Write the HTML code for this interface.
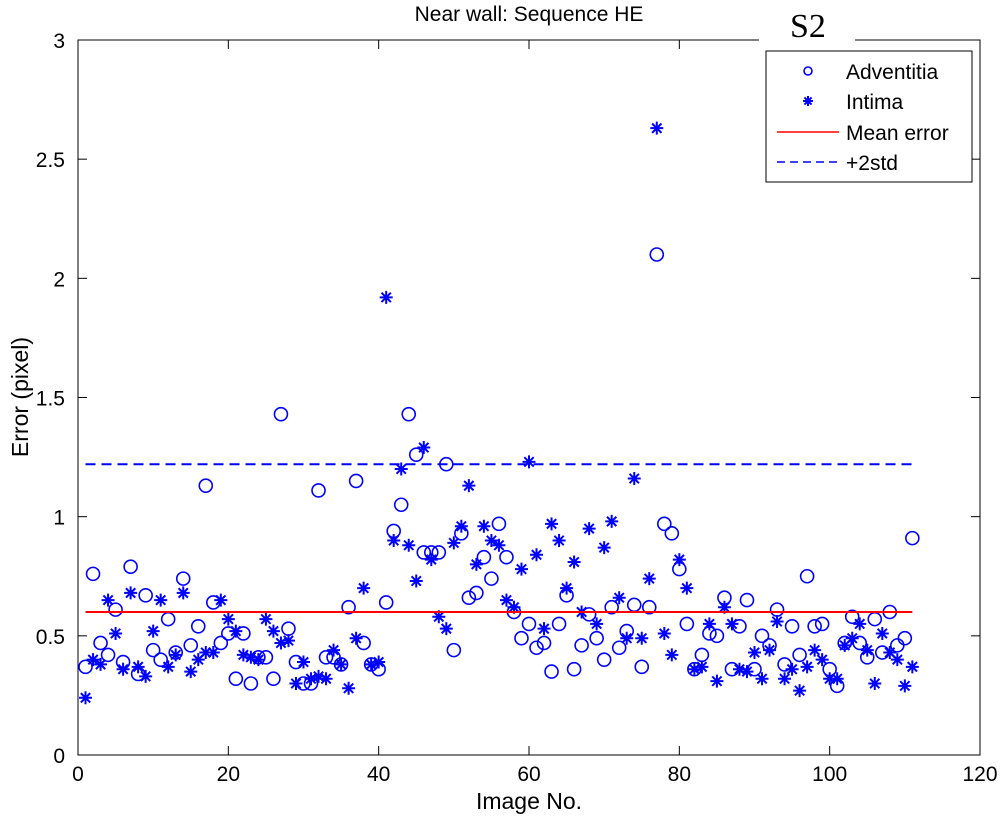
<!DOCTYPE html>
<html><head><meta charset="utf-8"><style>
body{margin:0;background:#fff;}
svg text{font-family:"Liberation Sans",sans-serif;}
</style></head><body>
<svg id="chart" width="1000" height="819" xmlns="http://www.w3.org/2000/svg">
<rect x="0" y="0" width="1000" height="819" fill="#fff"/>
<g id="axes"></g>
<g id="marks"></g>
<g id="legend"></g>
</svg>
<script>
const adventitia=[0.37,0.76,0.47,0.42,0.61,0.39,0.79,0.34,0.67,0.44,0.40,0.57,0.43,0.74,0.46,0.54,1.13,0.64,0.47,0.51,0.32,0.51,0.30,0.41,0.41,0.32,1.43,0.53,0.39,0.30,0.30,1.11,0.41,0.41,0.38,0.62,1.15,0.47,0.38,0.36,0.64,0.94,1.05,1.43,1.26,0.85,0.85,0.85,1.22,0.44,0.93,0.66,0.68,0.83,0.74,0.97,0.83,0.60,0.49,0.55,0.45,0.47,0.35,0.55,0.67,0.36,0.46,0.59,0.49,0.40,0.62,0.45,0.52,0.63,0.37,0.62,2.10,0.97,0.93,0.78,0.55,0.36,0.42,0.51,0.50,0.66,0.36,0.54,0.65,0.36,0.50,0.46,0.61,0.38,0.54,0.42,0.75,0.54,0.55,0.36,0.29,0.47,0.58,0.47,0.41,0.57,0.43,0.60,0.46,0.49,0.91];
const intima=[0.24,0.40,0.38,0.65,0.51,0.36,0.68,0.37,0.33,0.52,0.65,0.37,0.42,0.68,0.35,0.40,0.43,0.43,0.65,0.57,0.52,0.42,0.41,0.40,0.57,0.52,0.47,0.48,0.30,0.39,0.32,0.33,0.32,0.44,0.38,0.28,0.49,0.70,0.38,0.39,1.92,0.90,1.20,0.88,0.73,1.29,0.82,0.58,0.53,0.89,0.96,1.13,0.80,0.96,0.90,0.88,0.65,0.62,0.78,1.23,0.84,0.53,0.97,0.90,0.70,0.81,0.60,0.95,0.55,0.87,0.98,0.66,0.49,1.16,0.49,0.74,2.63,0.51,0.42,0.82,0.70,0.36,0.37,0.55,0.31,0.62,0.55,0.36,0.35,0.43,0.32,0.44,0.56,0.32,0.36,0.27,0.37,0.44,0.40,0.32,0.32,0.46,0.49,0.55,0.44,0.30,0.51,0.43,0.40,0.29,0.37];
const meanError=0.60;
const plus2std=1.22;
const xTicks=[0,20,40,60,80,100,120];
const yTicks=[0,0.5,1,1.5,2,2.5,3];
const yTickLabels=["0","0.5","1","1.5","2","2.5","3"];

const L=78,R=980,T=40,B=755;
const xS=v=>L+(v-0)/(120-0)*(R-L);
const yS=v=>B-(v-0)/(3-0)*(B-T);
const NS="http://www.w3.org/2000/svg";
function mk(tag,attrs,parent){const e=document.createElementNS(NS,tag);for(const k in attrs)e.setAttribute(k,attrs[k]);parent.appendChild(e);return e;}
const axes=document.getElementById('axes'),marks=document.getElementById('marks'),leg=document.getElementById('legend');

let box=mk('rect',{x:L,y:T,width:R-L,height:B-T,fill:'none',stroke:'#000','stroke-width':1},axes);


xTicks.forEach(t=>{const x=xS(t);
 mk('line',{x1:x,y1:B,x2:x,y2:B-9,stroke:'#000'},axes);
 mk('line',{x1:x,y1:T,x2:x,y2:T+9,stroke:'#000'},axes);
 const tx=mk('text',{x:x,y:B+26,'text-anchor':'middle','font-size':21},axes);tx.textContent=t;
 
 
});
yTicks.forEach((t,i)=>{const y=yS(t);
 mk('line',{x1:L,y1:y,x2:L+9,y2:y,stroke:'#000'},axes);
 mk('line',{x1:R,y1:y,x2:R-9,y2:y,stroke:'#000'},axes);
 const tx=mk('text',{x:L-13,y:y+8,'text-anchor':'end','font-size':21},axes);tx.textContent=yTickLabels[i];
 
 
});
let tt=mk('text',{x:529,y:21,'text-anchor':'middle','font-size':21},axes);tt.textContent='Near wall: Sequence HE';


let xl=mk('text',{x:529,y:809,'text-anchor':'middle','font-size':23},axes);xl.textContent='Image No.';


let yl=mk('text',{x:0,y:0,'text-anchor':'middle','font-size':23,transform:'translate(28,397) rotate(-90)'},axes);yl.textContent='Error (pixel)';



function star(cx,cy,s,parent,color){
 const d=`M${cx-s},${cy}H${cx+s}M${cx},${cy-s}V${cy+s}M${cx-s*0.72},${cy-s*0.72}L${cx+s*0.72},${cy+s*0.72}M${cx-s*0.72},${cy+s*0.72}L${cx+s*0.72},${cy-s*0.72}`;
 return mk('path',{d:d,stroke:color,'stroke-width':2,fill:'none'},parent);
}
adventitia.forEach((v,i)=>{
 const c=mk('circle',{cx:xS(i+1),cy:yS(v),r:6.5,fill:'none',stroke:'#0000ff','stroke-width':1.6},marks);
 
 
});
intima.forEach((v,i)=>{
 const p=star(xS(i+1),yS(v),6.5,marks,'#0000ff');
 
 
});
let ml=mk('line',{x1:xS(1),y1:yS(meanError),x2:xS(adventitia.length),y2:yS(meanError),stroke:'#ff0000','stroke-width':2},marks);


let sl=mk('line',{x1:xS(1),y1:yS(plus2std),x2:xS(adventitia.length),y2:yS(plus2std),stroke:'#0000ff','stroke-width':2,'stroke-dasharray':'10,6'},marks);



mk('rect',{x:759,y:0,width:96,height:52,fill:'#fff'},leg);
let s2=mk('text',{x:790,y:37,'font-size':34,style:'font-family:"Liberation Serif",serif'},leg);s2.textContent='S2';


let lb=mk('rect',{x:766,y:51,width:206,height:131,fill:'#fff',stroke:'#000','stroke-width':1},leg);


const rows=[['Adventitia',71],['Intima',101],['Mean error',132],['+2std',162]];
rows.forEach((r,i)=>{
 const t=mk('text',{x:846,y:r[1]+8,'font-size':21},leg);t.textContent=r[0];
 
 
});
mk('circle',{cx:808,cy:71,r:4,fill:'none',stroke:'#0000ff','stroke-width':1.6},leg);
star(808,101,5,leg,'#0000ff');
mk('line',{x1:777,y1:132,x2:839,y2:132,stroke:'#ff0000','stroke-width':1.6},leg);
mk('line',{x1:777,y1:162,x2:839,y2:162,stroke:'#0000ff','stroke-width':1.6,'stroke-dasharray':'8,5'},leg);
</script>
</body></html>
